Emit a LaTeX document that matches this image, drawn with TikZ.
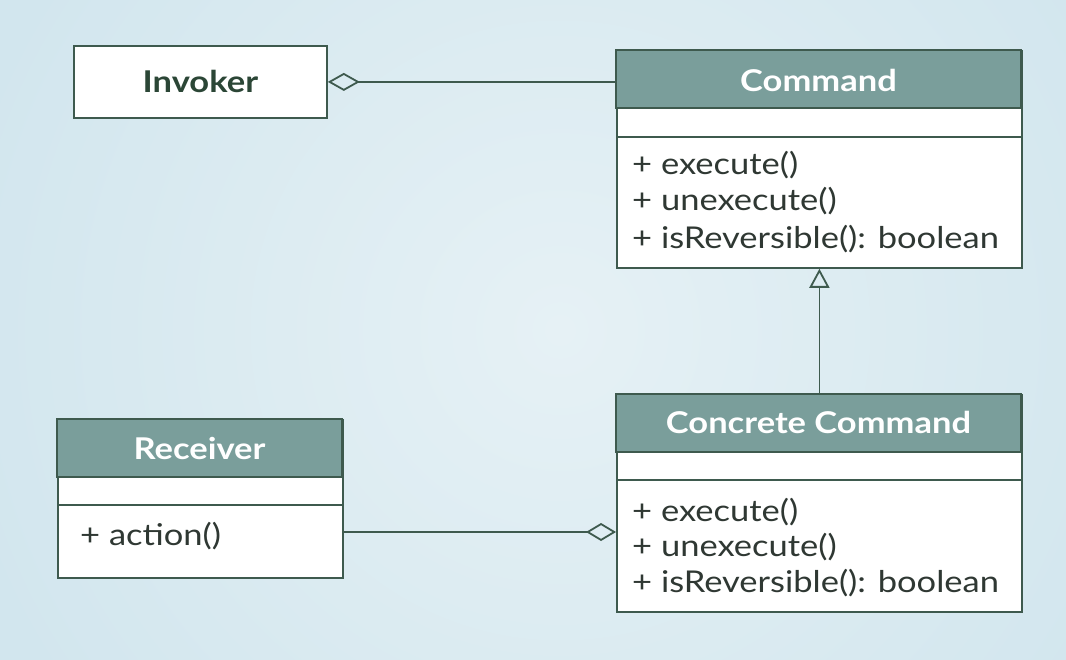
\documentclass[tikz,border=0pt]{standalone}
\usepackage{fontspec}
\setmainfont{Lato}[FakeStretch=1.15]
\usetikzlibrary{arrows.meta}
\definecolor{bgc}{HTML}{D2E6EE}
\definecolor{bgl}{HTML}{E6F1F5}
\definecolor{edge}{HTML}{3E5A4E}
\definecolor{headc}{HTML}{7A9E9B}
\definecolor{txt}{HTML}{2F3833}
\definecolor{invtxt}{HTML}{2B4636}
\tikzset{
  box/.style={draw=edge, line width=1.8, fill=white, minimum width=#1, anchor=north west, inner sep=0},
  head/.style={fill=headc, draw=edge, line width=1.8},
  htext/.style={text=white, font=\fontsize{30}{34}\selectfont\bfseries},
  mtext/.style={text=txt, anchor=west, inner sep=0, font=\fontsize{30}{34}\selectfont},
  link/.style={draw=edge, line width=1.8},
}
\begin{document}
\begin{tikzpicture}[x=1pt,y=-1pt]
\useasboundingbox (0,0) rectangle (1066,660);
\begin{scope}
\clip (0,0) rectangle (1066,660);
\fill[bgc] (0,0) rectangle (1066,660);
\shade[inner color=bgl, outer color=bgc] (560,330) circle (620);
\end{scope}

% Invoker
\node[box=253, minimum height=72] (inv) at (73,45) {};
\node[text=invtxt, font=\fontsize{30}{34}\selectfont\bfseries] (invt) at (inv.center) {Invoker};

% Command
\node[box=405, minimum height=217] (cmd) at (616,50) {};
\draw[head] (cmd.north west) rectangle (1021,108);
\draw[link] (616,137) -- (1021,137);
\node[htext] (cmdt) at (818.5,80) {Command};
\node[mtext] (cm1) at (632,165) {+ execute()};
\node[mtext] (cm2) at (632,201) {+ unexecute()};
\node[mtext] (cm3) at (632,239) {+ isReversible(): boolean};

% Concrete Command
\node[box=405, minimum height=217] (ccmd) at (616,394) {};
\draw[head] (ccmd.north west) rectangle (1021,452);
\draw[link] (616,480) -- (1021,480);
\node[htext] (ccmdt) at (818.5,422) {Concrete Command};
\node[mtext] (cc1) at (632,512) {+ execute()};
\node[mtext] (cc2) at (632,547) {+ unexecute()};
\node[mtext] (cc3) at (632,583) {+ isReversible(): boolean};

% Receiver
\node[box=285, minimum height=158] (rcv) at (57,419) {};
\draw[head] (rcv.north west) rectangle (342,477);
\draw[link] (57,505) -- (342,505);
\node[htext] (rcvt) at (199.5,448) {Receiver};
\node[mtext] (rc1) at (80,536) {+ action()};

% connectors
\draw[link, {Diamond[open, length=32, width=18]}-] (inv.east) -- (inv.east -| cmd.west);
\draw[link, -{Triangle[open, length=19, width=20]}] (ccmd.north) -- (cmd.south);
\coordinate (rcvp) at (342,532);
\draw[link, -{Diamond[open, length=30, width=18]}] (rcvp) -- (rcvp -| ccmd.west);
\end{tikzpicture}
\end{document}
